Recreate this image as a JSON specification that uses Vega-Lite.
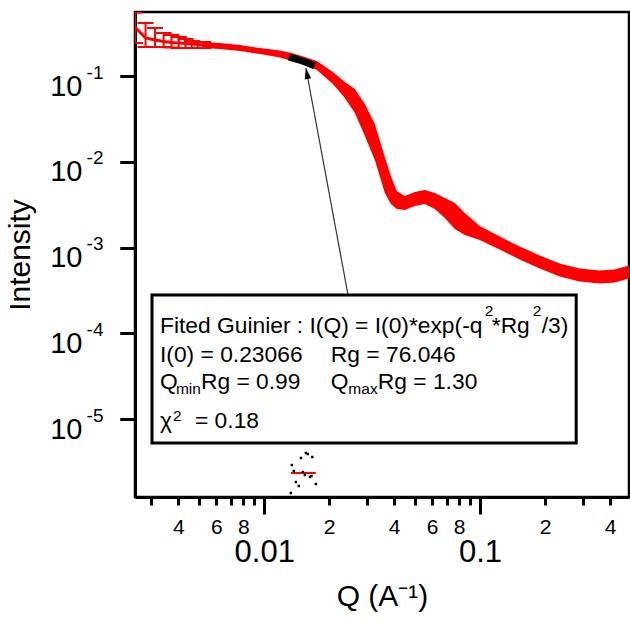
{
  "$schema": "https://vega.github.io/schema/vega-lite/v6.json",
  "width": 494,
  "height": 485,
  "autosize": {"type": "none"},
  "padding": {"left": 135, "top": 12, "right": 1, "bottom": 126},
  "background": "white",
  "config": {
    "view": {"stroke": "black", "strokeWidth": 2.5},
    "axis": {"labelFont": "Liberation Sans", "titleFont": "Liberation Sans", "labelColor": "black", "titleColor": "black", "tickColor": "black", "domainColor": "black", "titleFontWeight": "normal", "grid": false},
    "text": {"font": "Liberation Sans"}
  },
  "datasets": {
    "saxs": [
      {"Q": 0.00252, "I": 0.3728, "lo": 0.2426, "hi": 0.55},
      {"Q": 0.00282, "I": 0.2775, "lo": 0.2179, "hi": 0.4150},
      {"Q": 0.00312, "I": 0.2630, "lo": 0.2179, "hi": 0.3630},
      {"Q": 0.00342, "I": 0.2526, "lo": 0.2179, "hi": 0.3173},
      {"Q": 0.00372, "I": 0.2459, "lo": 0.2150, "hi": 0.3007},
      {"Q": 0.00402, "I": 0.2426, "lo": 0.2121, "hi": 0.2850},
      {"Q": 0.00432, "I": 0.2393, "lo": 0.2121, "hi": 0.2701},
      {"Q": 0.00462, "I": 0.2361, "lo": 0.2121, "hi": 0.2560},
      {"Q": 0.00492, "I": 0.2330, "lo": 0.2121, "hi": 0.2492},
      {"Q": 0.00522, "I": 0.2299, "lo": 0.2121, "hi": 0.2492},
      {"Q": 0.006235, "I": 0.2239, "lo": 0.2066, "hi": 0.2427},
      {"Q": 0.007718, "I": 0.2120, "lo": 0.1956, "hi": 0.2298},
      {"Q": 0.009552, "I": 0.1956, "lo": 0.1805, "hi": 0.2120},
      {"Q": 0.01182, "I": 0.1805, "lo": 0.1643, "hi": 0.1983},
      {"Q": 0.01343, "I": 0.1665, "lo": 0.1495, "hi": 0.1854},
      {"Q": 0.01543, "I": 0.1496, "lo": 0.1344, "hi": 0.1666},
      {"Q": 0.01754, "I": 0.1326, "lo": 0.1175, "hi": 0.1496},
      {"Q": 0.020798, "I": 0.09477, "lo": 0.08067, "hi": 0.1113},
      {"Q": 0.023637, "I": 0.06867, "lo": 0.05539, "hi": 0.08513},
      {"Q": 0.026302, "I": 0.05110, "lo": 0.03703, "hi": 0.07052},
      {"Q": 0.029262, "I": 0.03068, "lo": 0.01996, "hi": 0.04715},
      {"Q": 0.032546, "I": 0.01700, "lo": 0.01048, "hi": 0.02756},
      {"Q": 0.036207, "I": 0.007008, "lo": 0.004322, "hi": 0.01136},
      {"Q": 0.038596, "I": 0.004684, "lo": 0.003216, "hi": 0.006822},
      {"Q": 0.041143, "I": 0.003580, "lo": 0.002811, "hi": 0.004560},
      {"Q": 0.044811, "I": 0.003304, "lo": 0.002738, "hi": 0.003987},
      {"Q": 0.049854, "I": 0.003678, "lo": 0.003048, "hi": 0.004439},
      {"Q": 0.055461, "I": 0.003880, "lo": 0.003215, "hi": 0.004682},
      {"Q": 0.061706, "I": 0.003485, "lo": 0.002811, "hi": 0.004320},
      {"Q": 0.068645, "I": 0.002888, "lo": 0.002208, "hi": 0.003777},
      {"Q": 0.076373, "I": 0.002330, "lo": 0.001644, "hi": 0.003303},
      {"Q": 0.084967, "I": 0.001879, "lo": 0.001398, "hi": 0.002525},
      {"Q": 0.09968, "I": 0.001476, "lo": 0.001223, "hi": 0.001781},
      {"Q": 0.1234, "I": 0.001128, "lo": 0.0009473, "hi": 0.001343},
      {"Q": 0.1527, "I": 0.0008627, "lo": 0.0007245, "hi": 0.001027},
      {"Q": 0.1890, "I": 0.0006774, "lo": 0.0005689, "hi": 0.0008066},
      {"Q": 0.2339, "I": 0.0005464, "lo": 0.0004589, "hi": 0.0006506},
      {"Q": 0.2894, "I": 0.0004777, "lo": 0.0004012, "hi": 0.0005688},
      {"Q": 0.3582, "I": 0.0004529, "lo": 0.0003804, "hi": 0.0005393},
      {"Q": 0.4204, "I": 0.0004651, "lo": 0.0003906, "hi": 0.0005538},
      {"Q": 0.4898, "I": 0.0005181, "lo": 0.0004351, "hi": 0.0006169}
    ],
    "fit": [
      {"Q": 0.01302, "I": 0.1664},
      {"Q": 0.0140, "I": 0.1581},
      {"Q": 0.0150, "I": 0.1495},
      {"Q": 0.0160, "I": 0.1408},
      {"Q": 0.01709, "I": 0.1313}
    ],
    "resid": [
      {"Q": 0.01329, "R": -2.0},
      {"Q": 0.01343, "R": 0.8},
      {"Q": 0.01372, "R": 0.2},
      {"Q": 0.01402, "R": -0.9},
      {"Q": 0.01447, "R": -1.3},
      {"Q": 0.01479, "R": 1.5},
      {"Q": 0.01511, "R": 0.1},
      {"Q": 0.01543, "R": -0.2},
      {"Q": 0.01560, "R": 2.0},
      {"Q": 0.01593, "R": 1.9},
      {"Q": 0.01628, "R": -0.4},
      {"Q": 0.01655, "R": -0.3},
      {"Q": 0.01670, "R": 1.6},
      {"Q": 0.01735, "R": -1.1}
    ],
    "residzero": [{"Q": 0.01329, "Q2": 0.01735, "R": 0}],
    "arrow": [{"Q": 0.024406, "I": 0.00028693, "Q2": 0.015603, "I2": 0.12398}],
    "arrowhead": [{"Q": 0.015603, "I": 0.12398}],
    "box": [{"Q": 0.0030206, "Q2": 0.27888, "I": 0.00027932, "I2": 0.0000052497}],
    "textmain": [
      {"Q": 0.003290, "I": 0.00010149, "t": "Fited Guinier : I(Q) = I(0)*exp(-q"},
      {"Q": 0.11329, "I": 0.00010149, "t": "*Rg"},
      {"Q": 0.19305, "I": 0.00010149, "t": "/3)"},
      {"Q": 0.003290, "I": 0.000046584, "t": "I(0) = 0.23066"},
      {"Q": 0.02036, "I": 0.000046584, "t": "Rg = 76.046"},
      {"Q": 0.003290, "I": 0.000022381, "t": "Q"},
      {"Q": 0.005092, "I": 0.000022381, "t": "Rg = 0.99"},
      {"Q": 0.02036, "I": 0.000022381, "t": "Q"},
      {"Q": 0.03360, "I": 0.000022381, "t": "Rg = 1.30"},
      {"Q": 0.003290, "I": 0.000007857, "t": "χ"},
      {"Q": 0.004778, "I": 0.000007857, "t": "= 0.18"}
    ],
    "textsmall": [
      {"Q": 0.10514, "I": 0.00015891, "t": "2"},
      {"Q": 0.17537, "I": 0.00015891, "t": "2"},
      {"Q": 0.003901, "I": 0.000019562, "t": "min"},
      {"Q": 0.02454, "I": 0.000019562, "t": "max"},
      {"Q": 0.003779, "I": 0.000009477, "t": "2"}
    ]
  },
  "encoding": {
    "x": {
      "field": "Q",
      "type": "quantitative",
      "scale": {"type": "log", "domain": [0.00252, 0.4898], "nice": false},
      "axis": {
        "values": [0.003, 0.004, 0.005, 0.006, 0.007, 0.008, 0.009, 0.01, 0.02, 0.03, 0.04, 0.05, 0.06, 0.07, 0.08, 0.09, 0.1, 0.2, 0.3, 0.4],
        "labelExpr": "abs(log(datum.value)/LN10 - round(log(datum.value)/LN10)) < 0.001 ? (datum.value < 0.05 ? '0.01' : '0.1') : (round(datum.value/pow(10, floor(log(datum.value)/LN10 + 0.001))) % 2 == 0 ? '' + round(datum.value/pow(10, floor(log(datum.value)/LN10 + 0.001))) : '')",
        "labelOverlap": false,
        "labelFlush": false,
        "labelBound": false,
        "labelBaseline": "top",
        "tickSize": {"condition": {"test": "abs(log(datum.value)/LN10 - round(log(datum.value)/LN10)) < 0.001", "value": 17}, "value": 8},
        "labelFontSize": {"condition": {"test": "abs(log(datum.value)/LN10 - round(log(datum.value)/LN10)) < 0.001", "value": 31}, "value": 21},
        "labelPadding": {"condition": {"test": "abs(log(datum.value)/LN10 - round(log(datum.value)/LN10)) < 0.001", "value": 23}, "value": 11},
        "tickWidth": 3,
        "domainWidth": 3,
        "title": "Q (A⁻¹)",
        "titleFontSize": 30,
        "titlePadding": 14
      }
    }
  },
  "layer": [
    {
      "encoding": {
        "y": {
          "field": "I",
          "type": "quantitative",
          "scale": {"type": "log", "domain": [0.0000012315, 0.5577], "nice": false},
          "axis": {
            "orient": "left",
            "values": [0.00001, 0.0001, 0.001, 0.01, 0.1],
            "labelExpr": "'10'",
            "labelFontSize": 29,
            "labelBaseline": "alphabetic",
            "labelOffset": 19,
            "labelPadding": 38,
            "labelFlush": false,
            "labelOverlap": false,
            "tickSize": 15,
            "tickWidth": 3,
            "domainWidth": 3,
            "title": "Intensity",
            "titleFontSize": 30,
            "titlePadding": 14
          }
        }
      },
      "layer": [
        {
          "data": {"name": "saxs"},
          "transform": [{"filter": "datum.Q > 0.005"}],
          "mark": {"type": "area", "color": "#ff0000", "clip": true},
          "encoding": {
            "y": {"field": "lo", "type": "quantitative", "scale": {"type": "log", "domain": [0.0000012315, 0.5577], "nice": false}},
            "y2": {"field": "hi"}
          }
        },
        {
          "data": {"name": "saxs"},
          "mark": {"type": "line", "color": "#ff0000", "strokeWidth": 3, "clip": true},
          "encoding": {}
        },
        {
          "data": {"name": "saxs"},
          "transform": [{"filter": "datum.Q < 0.0053"}],
          "mark": {"type": "rule", "color": "#ff0000", "strokeWidth": 2, "clip": true},
          "encoding": {
            "y": {"field": "lo", "type": "quantitative", "scale": {"type": "log", "domain": [0.0000012315, 0.5577], "nice": false}},
            "y2": {"field": "hi"}
          }
        },
        {
          "data": {"name": "saxs"},
          "transform": [{"filter": "datum.Q < 0.0053"}],
          "mark": {"type": "tick", "orient": "horizontal", "color": "#ff0000", "size": 16, "thickness": 2, "opacity": 1, "clip": true},
          "encoding": {
            "y": {"field": "lo", "type": "quantitative", "scale": {"type": "log", "domain": [0.0000012315, 0.5577], "nice": false}}
          }
        },
        {
          "data": {"name": "saxs"},
          "transform": [{"filter": "datum.Q < 0.0053"}],
          "mark": {"type": "tick", "orient": "horizontal", "color": "#ff0000", "size": 16, "thickness": 2, "opacity": 1, "clip": true},
          "encoding": {
            "y": {"field": "hi", "type": "quantitative", "scale": {"type": "log", "domain": [0.0000012315, 0.5577], "nice": false}}
          }
        },
        {
          "data": {"name": "fit"},
          "mark": {"type": "line", "color": "black", "strokeWidth": 7, "strokeCap": "butt"},
          "encoding": {}
        },
        {
          "data": {"name": "arrow"},
          "mark": {"type": "rule", "color": "#333333", "strokeWidth": 1.2},
          "encoding": {"x2": {"field": "Q2"}, "y2": {"field": "I2"}}
        },
        {
          "data": {"name": "arrowhead"},
          "mark": {"type": "point", "shape": "M0,0L-0.3,1L0.3,1Z", "filled": true, "color": "black", "opacity": 1, "size": 484, "angle": 349.5},
          "encoding": {}
        },
        {
          "data": {"name": "box"},
          "mark": {"type": "rect", "fill": "white", "stroke": "black", "strokeWidth": 3},
          "encoding": {"x2": {"field": "Q2"}, "y2": {"field": "I2"}}
        }
      ]
    },
    {
      "encoding": {
        "y": {"field": "R", "type": "quantitative", "scale": {"domain": [-2.4, 46.1], "nice": false, "zero": false}, "axis": null}
      },
      "layer": [
        {
          "data": {"name": "residzero"},
          "mark": {"type": "rule", "color": "#ff0000", "strokeWidth": 2},
          "encoding": {"x2": {"field": "Q2"}}
        },
        {
          "data": {"name": "resid"},
          "mark": {"type": "square", "color": "black", "size": 6, "opacity": 1},
          "encoding": {}
        }
      ]
    },
    {
      "encoding": {
        "y": {
          "field": "I",
          "type": "quantitative",
          "scale": {"type": "log", "domain": [0.0000012315, 0.5577], "nice": false},
          "axis": {
            "orient": "left",
            "values": [0.00001, 0.0001, 0.001, 0.01, 0.1],
            "labelExpr": "'-' + (-round(log(datum.value)/LN10))",
            "labelFontSize": 19,
            "labelBaseline": "alphabetic",
            "labelOffset": 2,
            "labelPadding": 17,
            "labelFlush": false,
            "labelOverlap": false,
            "tickSize": 15,
            "tickWidth": 3,
            "domainWidth": 3,
            "title": null
          }
        }
      },
      "layer": [
        {
          "data": {"name": "textmain"},
          "mark": {"type": "text", "align": "left", "baseline": "alphabetic", "fontSize": 22.8, "color": "black", "font": "Liberation Sans"},
          "encoding": {"text": {"field": "t"}}
        },
        {
          "data": {"name": "textsmall"},
          "mark": {"type": "text", "align": "left", "baseline": "alphabetic", "fontSize": 15.5, "color": "black", "font": "Liberation Sans"},
          "encoding": {"text": {"field": "t"}}
        }
      ]
    }
  ],
  "resolve": {"scale": {"y": "independent"}}
}
